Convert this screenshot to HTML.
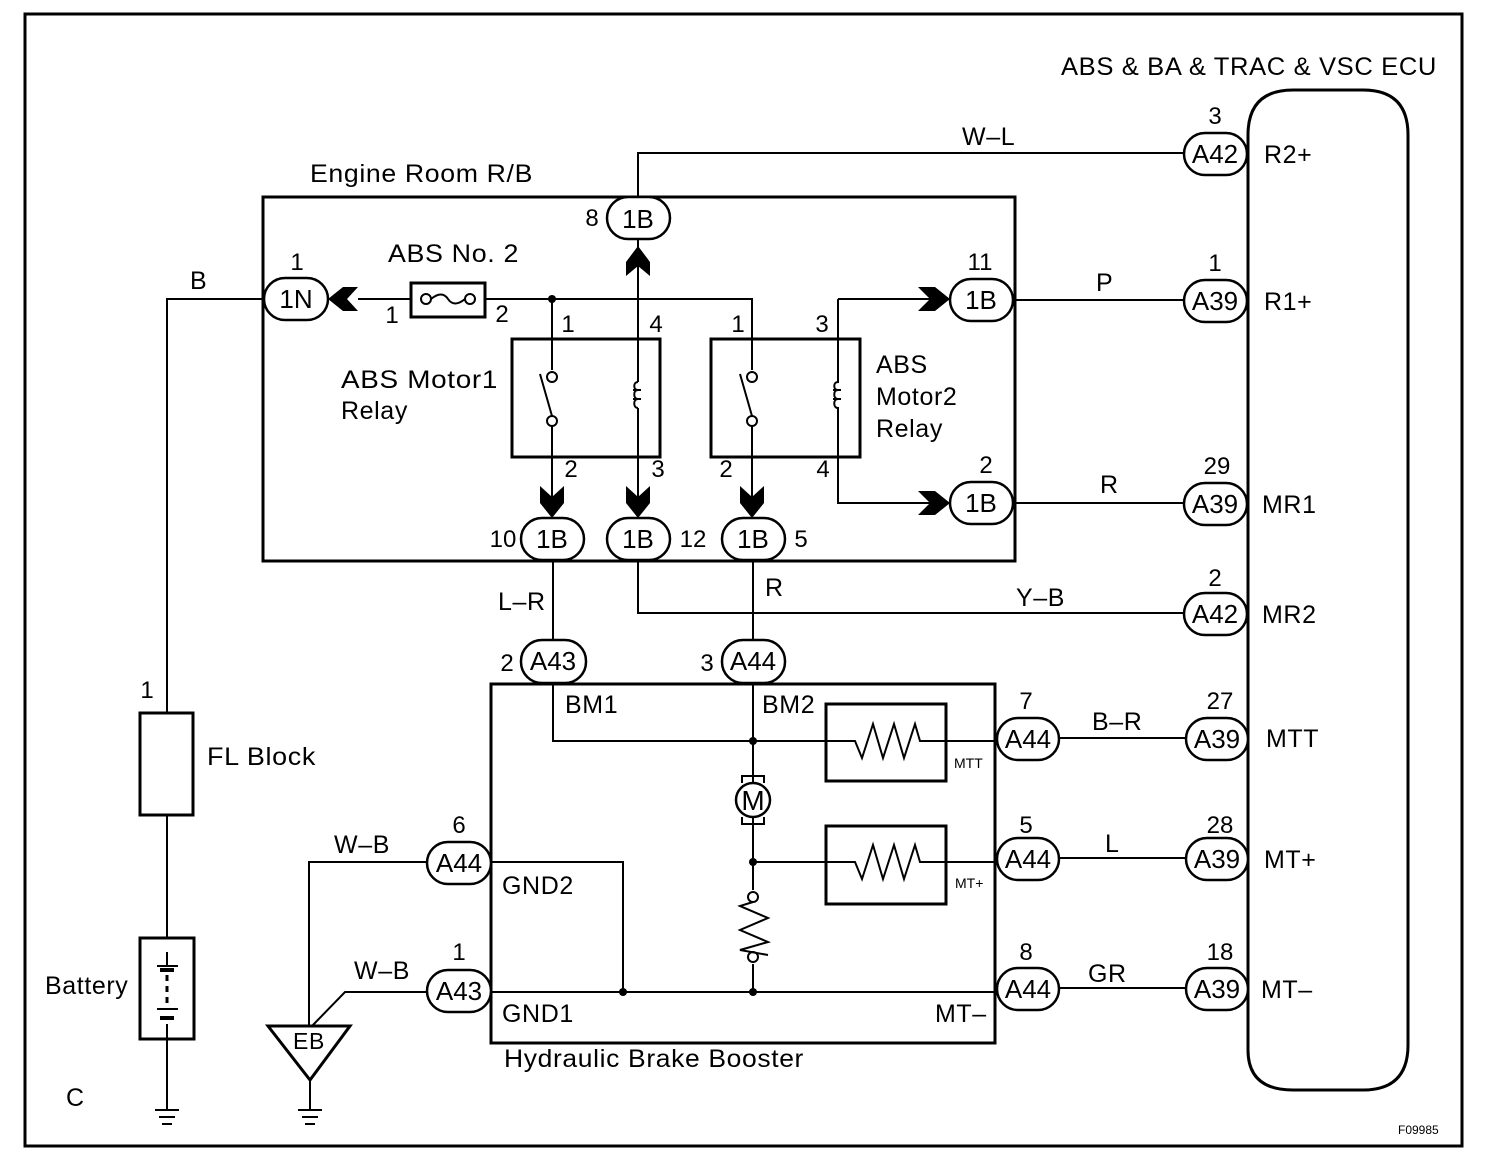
<!DOCTYPE html>
<html><head><meta charset="utf-8"><style>
html,body{margin:0;padding:0;background:#fff}
svg{display:block}
text{font-family:"Liberation Sans",Arial,sans-serif;fill:#000}
</style></head><body>
<svg width="1504" height="1162" viewBox="0 0 1504 1162" xmlns="http://www.w3.org/2000/svg">
<g fill="none" stroke="#000" stroke-width="2">
<rect x="25" y="14" width="1437" height="1132" stroke-width="3"/>
<path d="M1248 1050 V135 Q1248 90 1293 90 H1363 Q1408 90 1408 135 V1045 Q1408 1090 1363 1090 H1293 Q1248 1090 1248 1050" stroke-width="3"/>
<rect x="263" y="197" width="752" height="364" stroke-width="3"/>
<path d="M638 197 V153 H1184"/>
<path d="M638 240 V382 M638 408 V520"/>
<path d="M358 299 H411 M485 299 H752 V370"/>
<path d="M552 299 V370"/>
<rect x="411" y="283" width="74" height="34" stroke-width="3"/>
<circle cx="426" cy="299" r="5"/><circle cx="470" cy="299" r="5"/>
<path d="M431 299 Q442 290 448 299 T465 299"/>
<rect x="512" y="339" width="148" height="118" stroke-width="3"/>
<rect x="711" y="339" width="149" height="118" stroke-width="3"/>
<circle cx="552" cy="377" r="5"/><circle cx="552" cy="421" r="5"/>
<path d="M540 374 L552 416 M552 426 V510"/>
<circle cx="752" cy="377" r="5"/><circle cx="752" cy="421" r="5"/>
<path d="M740 374 L752 416 M752 426 V510"/>
<path d="M638 382 c-5 0 -5 8 0 8 c-5 0 -5 9 0 9 c-5 0 -5 9 0 9"/>
<path d="M633 390 h8 M633 399 h8"/>
<path d="M838 299 V382 c-5 0 -5 8 0 8 c-5 0 -5 9 0 9 c-5 0 -5 9 0 9 V503 H942 M942 299 H838"/>
<path d="M833 390 h8 M833 399 h8"/>
<path d="M1015 300 H1184 M1015 503 H1184"/>
<path d="M553 561 V640 M753 561 V640 M638 561 V613 H1184"/>
<rect x="491" y="684" width="504" height="359" stroke-width="3"/>
<path d="M553 683 V741 H826 M946 741 H997"/>
<path d="M753 683 V783 M753 817 V890 M753 964 V992"/>
<path d="M753 862 H826 M946 862 H997"/>
<rect x="826" y="704" width="120" height="77" stroke-width="3"/>
<rect x="826" y="826" width="120" height="78" stroke-width="3"/>
<path d="M826 741 H855 L862 758 L873 724 L883 758 L894 724 L904 758 L915 724 L920 741 H946"/>
<path d="M826 862 H855 L862 879 L873 845 L883 879 L894 845 L904 879 L915 845 L920 862 H946"/>
<circle cx="753" cy="800" r="17" stroke-width="2.5"/>
<path d="M742 783 V776 H764 V783 M742 817 V824 H764 V817"/>
<circle cx="753" cy="897" r="5"/><circle cx="753" cy="957" r="5"/>
<path d="M753 902 L740 906 L768 918 L740 930 L768 942 L740 950 L768 955"/>
<path d="M491 992 H995 M491 862 H623 V992"/>
<path d="M427 862 H309 V1026 M427 992 H345 L312 1026"/>
<polygon points="268,1026 350,1026 310,1080" stroke-width="3"/>
<path d="M310 1080 V1110"/>
<path d="M298 1110 H322 M302 1117 H318 M305 1124 H315"/>
<path d="M263 299 H167 V713 M167 815 V938 M167 1039 V1110"/>
<path d="M155 1110 H179 M159 1117 H175 M162 1124 H172"/>
<rect x="140" y="713" width="53" height="102" stroke-width="3"/>
<rect x="140" y="938" width="54" height="101" stroke-width="3"/>
<path d="M157 966 H178 M167 952 V966 M157 1009 H178 M167 1024 V1039" />
<path d="M160 970 H174 M160 1018 H174" stroke-width="4"/>
<path d="M167 975 V1005" stroke-dasharray="6 5" stroke-width="3"/>
<path d="M1060 738 H1186 M1060 858 H1186 M1060 988 H1186"/>
</g>
<g fill="#000">
<circle cx="552" cy="299" r="4"/><circle cx="753" cy="741" r="4"/><circle cx="753" cy="862" r="4"/>
<circle cx="753" cy="992" r="4"/><circle cx="623" cy="992" r="4"/>
<path d="M328 299 L343 287 H358 L347 299 L358 311 H343 Z"/>
<path d="M638 246 L626 262 V276 L638 266 L650 276 V262 Z"/>
<path d="M950 299 L935 287 H918 L930 299 L918 311 H935 Z"/>
<path d="M950 503 L935 491 H918 L930 503 L918 515 H935 Z"/>
<path d="M552 518 L540 503 V486 L552 497 L564 486 V503 Z"/>
<path d="M638 518 L626 503 V486 L638 497 L650 486 V503 Z"/>
<path d="M752 518 L740 503 V486 L752 497 L764 486 V503 Z"/>
</g>
<g fill="#fff" stroke="#000" stroke-width="2.5">
<rect x="1184" y="133" width="63" height="42" rx="21"/>
<rect x="1184" y="280" width="63" height="42" rx="21"/>
<rect x="1184" y="483" width="63" height="42" rx="21"/>
<rect x="1184" y="593" width="63" height="42" rx="21"/>
<rect x="1186" y="718" width="62" height="42" rx="21"/>
<rect x="1186" y="838" width="62" height="42" rx="21"/>
<rect x="1186" y="968" width="62" height="42" rx="21"/>
<rect x="997" y="718" width="62" height="42" rx="21"/>
<rect x="997" y="838" width="62" height="42" rx="21"/>
<rect x="997" y="968" width="62" height="42" rx="21"/>
<rect x="427" y="842" width="64" height="42" rx="21"/>
<rect x="427" y="970" width="64" height="42" rx="21"/>
<rect x="521" y="640" width="65" height="43" rx="21"/>
<rect x="722" y="640" width="63" height="43" rx="21"/>
<rect x="264" y="278" width="64" height="42" rx="21"/>
<rect x="607" y="197" width="63" height="42" rx="21"/>
<rect x="950" y="279" width="63" height="42" rx="21"/>
<rect x="950" y="482" width="63" height="42" rx="21"/>
<rect x="521" y="518" width="63" height="42" rx="21"/>
<rect x="607" y="518" width="63" height="42" rx="21"/>
<rect x="722" y="518" width="63" height="42" rx="21"/>
</g>
<g font-size="26" text-anchor="middle">
<text x="1215" y="163">A42</text><text x="1215" y="310">A39</text><text x="1215" y="513">A39</text><text x="1215" y="623">A42</text>
<text x="1217" y="748">A39</text><text x="1217" y="868">A39</text><text x="1217" y="998">A39</text>
<text x="1028" y="748">A44</text><text x="1028" y="868">A44</text><text x="1028" y="998">A44</text>
<text x="459" y="872">A44</text><text x="459" y="1000">A43</text>
<text x="553" y="670">A43</text><text x="753" y="670">A44</text>
<text x="296" y="308">1N</text><text x="638" y="228">1B</text><text x="981" y="309">1B</text><text x="981" y="512">1B</text>
<text x="552" y="548">1B</text><text x="638" y="548">1B</text><text x="753" y="548">1B</text>
<text x="753" y="810" font-size="28">M</text>
</g>
<g font-size="24" text-anchor="middle">
<text x="1215" y="124">3</text><text x="1215" y="271">1</text><text x="1217" y="474">29</text><text x="1215" y="586">2</text>
<text x="1220" y="709">27</text><text x="1220" y="833">28</text><text x="1220" y="960">18</text>
<text x="1026" y="709">7</text><text x="1026" y="833">5</text><text x="1026" y="960">8</text>
<text x="459" y="833">6</text><text x="459" y="960">1</text>
<text x="507" y="671">2</text><text x="707" y="671">3</text>
<text x="297" y="270">1</text><text x="592" y="226">8</text><text x="980" y="270">11</text><text x="986" y="473">2</text>
<text x="503" y="547">10</text><text x="693" y="547">12</text><text x="801" y="547">5</text>
<text x="392" y="323">1</text><text x="502" y="322">2</text>
<text x="568" y="332">1</text><text x="656" y="332">4</text><text x="738" y="332">1</text><text x="822" y="332">3</text>
<text x="571" y="477">2</text><text x="658" y="477">3</text><text x="726" y="477">2</text><text x="823" y="477">4</text>
<text x="147" y="698">1</text>
</g>
<g font-size="25" letter-spacing="0.6">
<text x="1061" y="75" textLength="376" lengthAdjust="spacingAndGlyphs">ABS &amp; BA &amp; TRAC &amp; VSC ECU</text>
<text x="1264" y="163">R2+</text><text x="1264" y="310">R1+</text><text x="1262" y="513">MR1</text><text x="1262" y="623">MR2</text>
<text x="1266" y="747">MTT</text><text x="1264" y="868">MT+</text><text x="1261" y="998">MT–</text>
<text x="962" y="145">W–L</text><text x="1096" y="291">P</text><text x="1100" y="493">R</text><text x="1016" y="606">Y–B</text>
<text x="1092" y="730">B–R</text><text x="1105" y="852">L</text><text x="1088" y="982">GR</text>
<text x="310" y="182" textLength="223" lengthAdjust="spacingAndGlyphs">Engine Room R/B</text>
<text x="388" y="262" textLength="131" lengthAdjust="spacingAndGlyphs">ABS No. 2</text>
<text x="341" y="388" textLength="157" lengthAdjust="spacingAndGlyphs">ABS  Motor1</text><text x="341" y="419">Relay</text>
<text x="876" y="373">ABS</text><text x="876" y="405">Motor2</text><text x="876" y="437">Relay</text>
<text x="190" y="289">B</text><text x="498" y="610">L–R</text><text x="765" y="596">R</text>
<text x="565" y="713">BM1</text><text x="762" y="713">BM2</text>
<text x="502" y="894">GND2</text><text x="502" y="1022">GND1</text><text x="935" y="1022">MT–</text>
<text x="504" y="1067" textLength="300" lengthAdjust="spacingAndGlyphs">Hydraulic Brake Booster</text>
<text x="334" y="853">W–B</text><text x="354" y="979">W–B</text>
<text x="207" y="765" textLength="109" lengthAdjust="spacingAndGlyphs">FL Block</text><text x="45" y="994">Battery</text><text x="66" y="1106">C</text>
<text x="293" y="1049" font-size="23">EB</text>
</g>
<g font-size="14">
<text x="954" y="768">MTT</text><text x="955" y="888">MT+</text>
<text x="1398" y="1134" font-size="12">F09985</text>
</g>
</svg>
</body></html>
